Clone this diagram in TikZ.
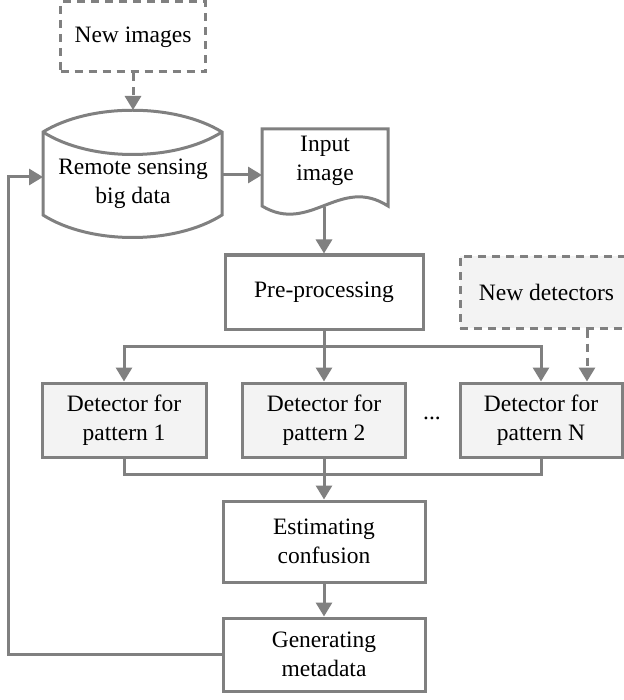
\documentclass[tikz,border=0pt]{standalone}
\usepackage{fontspec}
\setmainfont{Liberation Serif}
\usetikzlibrary{arrows.meta}
\definecolor{lc}{RGB}{128,128,128}
\definecolor{fc}{RGB}{243,243,243}
\newcommand\diagfont{\fontsize{23.5}{28.5}\selectfont}
\begin{document}
\begin{tikzpicture}[x=1pt,y=-1pt,
  box/.style={draw=lc, line width=3pt, rectangle, inner sep=0pt, align=center, font=\diagfont},
  fbox/.style={box, fill=fc},
  dsh/.style={dash pattern=on 8pt off 6pt},
  dbox/.style={box, dsh},
  txt/.style={align=center, font=\diagfont, inner sep=0pt},
  line/.style={draw=lc, line width=3pt},
  conn/.style={line, -{Triangle[width=16pt,length=14pt]}}]
\fill[white] (0,0) rectangle (623,700);
\useasboundingbox (0,0) rectangle (623,700);

% shapes drawn directly
\draw[line] (43,132) -- (43,215) .. controls (90,245) and (175,245) .. (222,215) -- (222,132) .. controls (175,103) and (90,103) .. cycle;
\draw[line] (43,132) .. controls (90,162) and (175,162) .. (222,132);
\draw[line] (262,129) -- (388,129) -- (388,206) .. controls (340,175) and (310,235) .. (262,206) -- cycle;

% nodes
\node[dbox, minimum width=145pt, minimum height=70pt] (newimg) at (133,37) {New images};
\node[txt] (rs) at (133,184) {Remote sensing\\big data};
\coordinate (cylT) at (133,110);
\coordinate (cylL) at (43,177);
\coordinate (cylR) at (222,175);
\node[txt] (inp) at (325,161) {Input\\image};
\coordinate (inpL) at (262,175);
\coordinate (inpB) at (324,207);
\node[box, minimum width=198pt, minimum height=74pt] (pre) at (324,292) {Pre-processing};
\node[dbox, fill=fc, minimum width=173pt, minimum height=72pt] (newdet) at (546.5,292) {New detectors};
\node[fbox, minimum width=164pt, minimum height=74pt] (det1) at (124,420) {Detector for\\pattern 1};
\node[fbox, minimum width=163pt, minimum height=74pt] (det2) at (324,420) {Detector for\\pattern 2};
\node[fbox, minimum width=162pt, minimum height=74pt] (detN) at (541,420) {Detector for\\pattern N};
\node[font=\diagfont, inner sep=0pt, anchor=base] (dots) at (432,419) {...};
\node[box, minimum width=202pt, minimum height=81pt] (est) at (324,541.5) {Estimating\\confusion};
\node[box, minimum width=202pt, minimum height=73pt] (gen) at (324,654.5) {Generating\\metadata};
\coordinate (split) at (324,346);
\coordinate (join) at (324,474);
\coordinate (fbc) at (8,654.5);

% connectors
\draw[conn, dsh] (newimg) -- (cylT);
\draw[conn] (cylR) -- (inpL);
\draw[conn] (inpB) -- (pre);
\draw[line] (pre) -- (split);
\draw[conn] (split) -| (det1);
\draw[conn] (split) -- (det2);
\draw[conn] (split) -| (detN);
\draw[conn, dsh] ([xshift=40.5pt]newdet.south) -- ([xshift=46pt]detN.north);
\draw[line] (det1) |- (join);
\draw[line] (detN) |- (join);
\draw[line] (det2) -- (join);
\draw[conn] (join) -- (est);
\draw[conn] (est) -- (gen);
\draw[conn] (gen) -- (fbc) |- (cylL);
\end{tikzpicture}
\end{document}
